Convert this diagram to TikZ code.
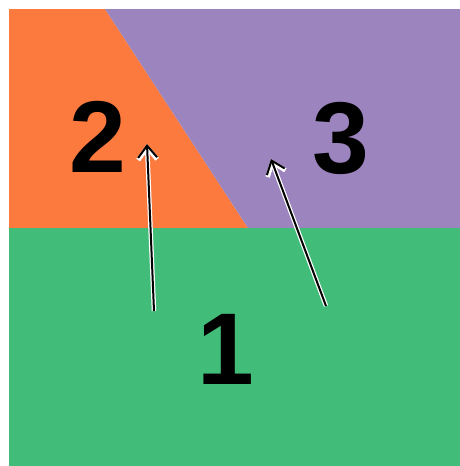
\documentclass[tikz,border=0pt]{standalone}
\usepackage{fontspec}
\setmainfont{Liberation Sans}
\usetikzlibrary{arrows.meta}

\definecolor{regorange}{RGB}{252,122,62}
\definecolor{regpurple}{RGB}{156,132,190}
\definecolor{reggreen}{RGB}{66,189,121}

\tikzset{
  regionlabel/.style={font=\fontsize{102}{102}\selectfont\bfseries, inner sep=0pt},
  flowarrow/.style={draw=black, line width=2pt, -{Straight Barb[length=12pt,width=19pt]},
    preaction={draw=white, line width=4.5pt, -{Straight Barb[length=12pt,width=19pt]}}}
}

\begin{document}
\begin{tikzpicture}[x=1pt, y=-1pt]
        \useasboundingbox (0,0) rectangle (460,466);

        % Corners of the regions
        \coordinate (TL) at (9,9);
        \coordinate (TM) at (105,9);
        \coordinate (TR) at (460,9);
        \coordinate (ML) at (9,228);
        \coordinate (MM) at (248,228);
        \coordinate (MR) at (460,228);
        \coordinate (BR) at (460,466);

        % Regions
        \fill[regorange] (TL) -- (TM) -- (MM) -- (ML) -- cycle;
        \fill[regpurple] (TM) -- (TR) -- (MR) -- (MM) -- cycle;
        \fill[reggreen] (ML) rectangle (BR);

        % Region numbers
        \node[regionlabel] (two) at (98,137) {2};
        \node[regionlabel] (three) at (341,138) {3};
        \node[regionlabel] (one) at (226,349) {1};

        % Arrows
        \coordinate (tailA) at (154,311);
        \coordinate (tipA) at (147,144);
        \coordinate (tailB) at (326,306);
        \coordinate (tipB) at (271,159);
        \draw[flowarrow] (tailA) -- (tipA);
        \draw[flowarrow] (tailB) -- (tipB);

      \end{tikzpicture}
\end{document}
